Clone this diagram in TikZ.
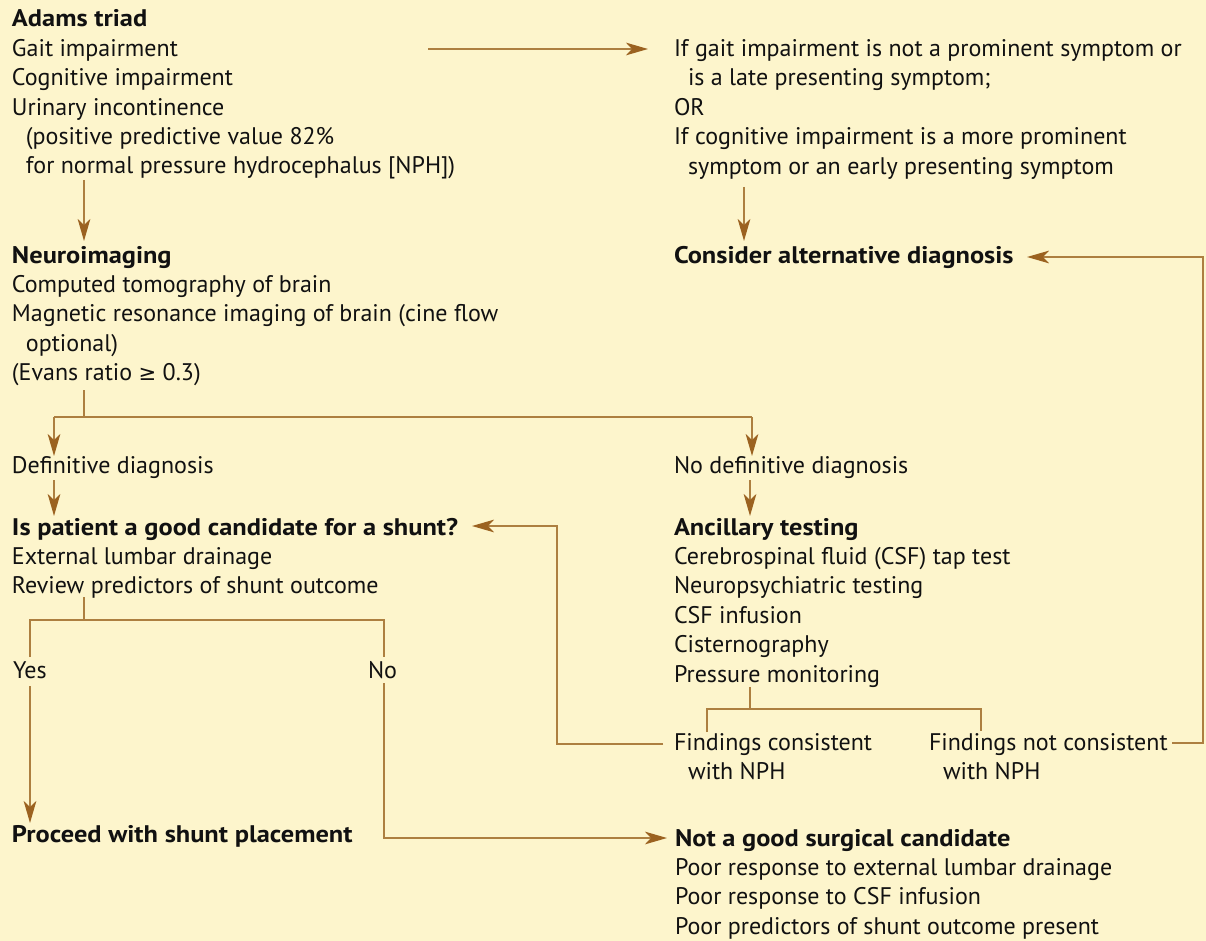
\documentclass[tikz,border=0pt]{standalone}
\usepackage{fontspec}
\setmainfont{PT Sans}[BoldFeatures={FakeStretch=1.10}]
\newfontfamily\symf{DejaVu Sans}[Scale=0.88]
\usetikzlibrary{arrows.meta}
\definecolor{bg}{HTML}{FDF5CC}
\definecolor{ln}{HTML}{AD7F40}
\definecolor{ah}{HTML}{9B6220}
\definecolor{tx}{HTML}{111111}
\newcommand{\ind}{\hspace*{10.5pt}}
\newcommand{\blk}[1]{\begin{tabular}[t]{@{}l@{}}#1\end{tabular}}
\begin{document}
\begin{tikzpicture}[x=0.75pt,y=-0.75pt,
  txt/.style={anchor=base west,inner sep=0pt,outer sep=0pt,text=tx,font=\fontsize{18}{22.05}\selectfont},
  conn/.style={draw=ln,line width=1.2pt},
  arr/.style={conn,-{Stealth[length=16.5pt,width=9.5pt,inset=4.5pt,color=ah]}}]
\fill[bg] (0,0) rectangle (1206,941);
\useasboundingbox (0,0) rectangle (1206,941);

% text blocks
\node[txt] (adams) at (12,27) {\blk{\textbf{Adams triad}\\Gait impairment\\Cognitive impairment\\Urinary incontinence\\\ind(positive predictive value 82\%\\\ind for normal pressure hydrocephalus [NPH])}};
\node[txt] (altcrit) at (674,56.5) {\blk{If gait impairment is not a prominent symptom or\\\ind is a late presenting symptom;\\OR\\If cognitive impairment is a more prominent\\\ind symptom or an early presenting symptom}};
\node[txt] (neuro) at (12,263) {\blk{\textbf{Neuroimaging}\\Computed tomography of brain\\Magnetic resonance imaging of brain (cine flow\\\ind optional)\\(Evans ratio {\symf ≥} 0.3)}};
\node[txt] (consider) at (674,263) {\textbf{Consider alternative diagnosis}};
\node[txt] (defdx) at (12,473) {Definitive diagnosis};
\node[txt] (nodefdx) at (674,473) {No definitive diagnosis};
\node[txt] (candidate) at (12,535) {\blk{\textbf{Is patient a good candidate for a shunt?}\\External lumbar drainage\\Review predictors of shunt outcome}};
\node[txt] (ancillary) at (674,535) {\blk{\textbf{Ancillary testing}\\Cerebrospinal fluid (CSF) tap test\\Neuropsychiatric testing\\CSF infusion\\Cisternography\\Pressure monitoring}};
\node[txt] (yes) at (13,678) {Yes};
\node[txt] (no) at (368,678) {No};
\node[txt] (consistent) at (674,750) {\blk{Findings consistent\\\ind with NPH}};
\node[txt] (notconsistent) at (929,750) {\blk{Findings not consistent\\\ind with NPH}};
\node[txt] (proceed) at (12,842) {\textbf{Proceed with shunt placement}};
\node[txt] (notgood) at (675,846) {\blk{\textbf{Not a good surgical candidate}\\Poor response to external lumbar drainage\\Poor response to CSF infusion\\Poor predictors of shunt outcome present}};

% connector points
\coordinate (a1) at (428,49);   \coordinate (a2) at (648,49);
\coordinate (b1) at (84,180);   \coordinate (b2) at (84,241);
\coordinate (c1) at (744,187);  \coordinate (c2) at (744,241);
\coordinate (d1) at (84,390);   \coordinate (d2) at (84,417);
\coordinate (dl) at (54,417);   \coordinate (dr) at (752,417);
\coordinate (dl2) at (54,456);  \coordinate (dr2) at (752,456);
\coordinate (e1) at (54,480);   \coordinate (e2) at (54,516);
\coordinate (f1) at (750,480);  \coordinate (f2) at (750,516);
\coordinate (g1) at (84,597);   \coordinate (g2) at (84,620);
\coordinate (gl) at (30,620);   \coordinate (gr) at (384,620);
\coordinate (gl2) at (30,657);  \coordinate (gr2) at (384,657);
\coordinate (h1) at (30,686);   \coordinate (h2) at (30,823);
\coordinate (i1) at (384,683);  \coordinate (i2) at (384,838);  \coordinate (i3) at (667,838);
\coordinate (j1) at (750,687);  \coordinate (j2) at (750,709);
\coordinate (jl) at (707,709);  \coordinate (jr) at (981,709);
\coordinate (jl2) at (707,732); \coordinate (jr2) at (981,731);
\coordinate (k1) at (663,744);  \coordinate (k2) at (557,744);  \coordinate (k3) at (557,526); \coordinate (k4) at (472,526);
\coordinate (m1) at (1172,743); \coordinate (m2) at (1203,743); \coordinate (m3) at (1203,257); \coordinate (m4) at (1027,257);

% connectors
\draw[arr] (a1) -- (a2);
\draw[arr] (b1) -- (b2);
\draw[arr] (c1) -- (c2);
\draw[conn] (d1) -- (d2);
\draw[conn] (dl) -- (dr);
\draw[arr] (dl) -- (dl2);
\draw[arr] (dr) -- (dr2);
\draw[arr] (e1) -- (e2);
\draw[arr] (f1) -- (f2);
\draw[conn] (g1) -- (g2);
\draw[conn] (gl2) -- (gl) -- (gr) -- (gr2);
\draw[arr] (h1) -- (h2);
\draw[arr] (i1) -- (i2) -- (i3);
\draw[conn] (j1) -- (j2);
\draw[conn] (jl2) -- (jl) -- (jr) -- (jr2);
\draw[arr] (k1) -- (k2) -- (k3) -- (k4);
\draw[arr] (m1) -- (m2) -- (m3) -- (m4);
\end{tikzpicture}
\end{document}
